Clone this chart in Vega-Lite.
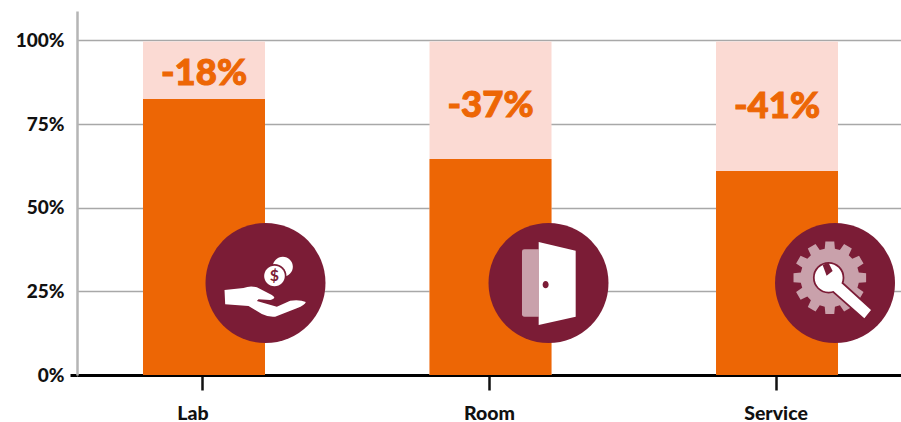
{
"$schema":"https://vega.github.io/schema/vega-lite/v6.json",
"width":824,"height":364,
"autosize":{"type":"none"},
"padding":{"left":77,"top":11,"right":0,"bottom":47},
"background":"white",
"config":{"view":{"stroke":null},"font":"Lato"},
"data":{"values":[
{"category":"Lab","share":0.825,"label":"-18%","labelLevel":0.899},
{"category":"Room","share":0.646,"label":"-37%","labelLevel":0.804},
{"category":"Service","share":0.61,"label":"-41%","labelLevel":0.802}
]},
"encoding":{
"x":{"field":"category","type":"nominal","sort":null,"scale":{"type":"point","padding":0.438,"align":0.506},
"axis":{"title":null,"labelAngle":0,"labelFont":"Lato","labelFontSize":19.5,"labelFontWeight":900,"labelColor":"#111111","domain":true,"domainColor":"#000000","domainWidth":3,"tickColor":"#111111","tickWidth":2.5,"tickSize":15,"tickOffset":-1.5,"labelPadding":14,"labelOffset":{"expr":"datum.value==='Lab'?-10:0"},"grid":false}}
},
"layer":[
{"mark":{"type":"bar","size":122,"color":"#fbdad3"},
"encoding":{"y":{"datum":0.997,"type":"quantitative","scale":{"domain":[0,1.088],"nice":false},
"axis":{"title":null,"values":[0,0.25,0.5,0.75,1],"format":".0%","labelFont":"Lato","labelFontSize":19,"labelFontWeight":900,"labelColor":"#111111","labelPadding":6,"tickSize":7,"tickWidth":3,"tickColor":{"expr":"datum.value===0?'#000000':'transparent'"},"domain":true,"domainColor":"#b5b5b5","domainWidth":2.5,"grid":true,"gridColor":"#a8a8a8","gridWidth":1.3}}}},
{"mark":{"type":"bar","size":122,"color":"#ed6605"},
"encoding":{"y":{"field":"share","type":"quantitative"}}},
{"mark":{"type":"text","font":"Lato","fontSize":36.5,"fontWeight":900,"color":"#ed6605","stroke":"#ed6605","strokeWidth":1,"align":"center","baseline":"middle"},
"encoding":{"y":{"field":"labelLevel","type":"quantitative"},"text":{"field":"label"}}},
{"transform":[{"filter":"datum.category==='Lab'"}],
"encoding":{"y":{"datum":0.275,"type":"quantitative"}},
"layer":[
{"mark":{"type":"point","shape":"circle","filled":true,"opacity":1,"size":14400,"color":"#7b1c36","strokeWidth":0,"xOffset":61.5}},
{"mark":{"type":"point","filled":true,"opacity":1,"size":14400,"color":"#ffffff","strokeWidth":0,"xOffset":61.5,"shape":"M-.683,.117 L-.367,.083 Q-.256,.039 -.144,.072 L.106,.2 Q.2,.256 .078,.283 L-.117,.272 L-.144,.3 L.189,.394 L.411,.294 Q.578,.272 .672,.317 Q.661,.367 .522,.422 L.161,.561 Q.05,.572 -.061,.517 L-.283,.383 L-.672,.356 Z M.122,-.272 a.167,.167 0 1,1 .334,0 a.167,.167 0 1,1 -.334,0 Z"}},
{"mark":{"type":"point","filled":true,"opacity":1,"size":14400,"color":"#7b1c36","strokeWidth":0,"xOffset":61.5,"shape":"M-.05,-.117 a.2,.2 0 1,1 .4,0 a.2,.2 0 1,1 -.4,0 Z"}},
{"mark":{"type":"point","filled":true,"opacity":1,"size":14400,"color":"#ffffff","strokeWidth":0,"xOffset":61.5,"shape":"M-.022,-.117 a.172,.172 0 1,1 .344,0 a.172,.172 0 1,1 -.344,0 Z"}},
{"mark":{"type":"text","text":"$","font":"Lato","fontSize":16,"fontWeight":"bold","color":"#7b1c36","align":"center","baseline":"middle","xOffset":70.5,"yOffset":-7}}
]},
{"transform":[{"filter":"datum.category==='Room'"}],
"encoding":{"y":{"datum":0.275,"type":"quantitative"}},
"layer":[
{"mark":{"type":"point","shape":"circle","filled":true,"opacity":1,"size":14400,"color":"#7b1c36","strokeWidth":0,"xOffset":58}},
{"mark":{"type":"point","filled":true,"opacity":1,"size":14400,"color":"#c9a1ab","strokeWidth":0,"xOffset":58,"shape":"M-.442,-.52 Q-.442,-.561 -.4,-.561 L-.164,-.561 L-.164,.561 L-.4,.561 Q-.442,.561 -.442,.52 Z"}},
{"mark":{"type":"point","filled":true,"opacity":1,"size":14400,"color":"#ffffff","strokeWidth":0,"xOffset":58,"shape":"M-.164,-.683 L.453,-.539 L.453,.561 L-.164,.7 Z"}},
{"mark":{"type":"point","filled":true,"opacity":1,"size":14400,"color":"#7b1c36","strokeWidth":0,"xOffset":58,"shape":"M-.098,.028 a.05,.061 0 1,1 .1,0 a.05,.061 0 1,1 -.1,0 Z"}}
]},
{"transform":[{"filter":"datum.category==='Service'"}],
"encoding":{"y":{"datum":0.275,"type":"quantitative"}},
"layer":[
{"mark":{"type":"point","shape":"circle","filled":true,"opacity":1,"size":14400,"color":"#7b1c36","strokeWidth":0,"xOffset":58}},
{"mark":{"type":"point","filled":true,"opacity":1,"size":14400,"color":"#c9a1ab","strokeWidth":0,"xOffset":52.8,"yOffset":-5.3,"shape":"M.483,-.085 L.605,-.074 L.605,.074 L.483,.085 L.460,.168 L.562,.238 L.487,.367 L.375,.315 L.315,.375 L.367,.487 L.238,.562 L.168,.460 L.085,.483 L.074,.605 L-.074,.605 L-.085,.483 L-.168,.460 L-.238,.562 L-.367,.487 L-.315,.375 L-.375,.315 L-.487,.367 L-.562,.238 L-.460,.168 L-.483,.085 L-.605,.074 L-.605,-.074 L-.483,-.085 L-.460,-.168 L-.562,-.238 L-.487,-.367 L-.375,-.315 L-.315,-.375 L-.367,-.487 L-.238,-.562 L-.168,-.460 L-.085,-.483 L-.074,-.605 L.074,-.605 L.085,-.483 L.168,-.460 L.238,-.562 L.367,-.487 L.315,-.375 L.375,-.315 L.487,-.367 L.562,-.238 L.460,-.168 Z"}},
{"mark":{"type":"point","filled":true,"opacity":1,"size":14400,"color":"#7b1c36","stroke":"#7b1c36","strokeWidth":3.5,"xOffset":58,"shape":"M-.339,-.089 a.233,.233 0 1,1 .466,0 a.233,.233 0 1,1 -.466,0 Z M.6,.45 L.489,.589 L-.078,.089 L.061,-.039 Z"}},
{"mark":{"type":"point","filled":true,"opacity":1,"size":14400,"color":"#ffffff","strokeWidth":0,"xOffset":58,"shape":"M-.339,-.089 a.233,.233 0 1,1 .466,0 a.233,.233 0 1,1 -.466,0 Z M.6,.45 L.489,.589 L-.078,.089 L.061,-.039 Z"}},
{"mark":{"type":"point","filled":true,"opacity":1,"size":14400,"color":"#7b1c36","strokeWidth":0,"xOffset":58,"shape":"M-.206,-.3 L-.14,-.12 L-.04,-.2 L-.11,-.34 Z"}}
]}
]
}
